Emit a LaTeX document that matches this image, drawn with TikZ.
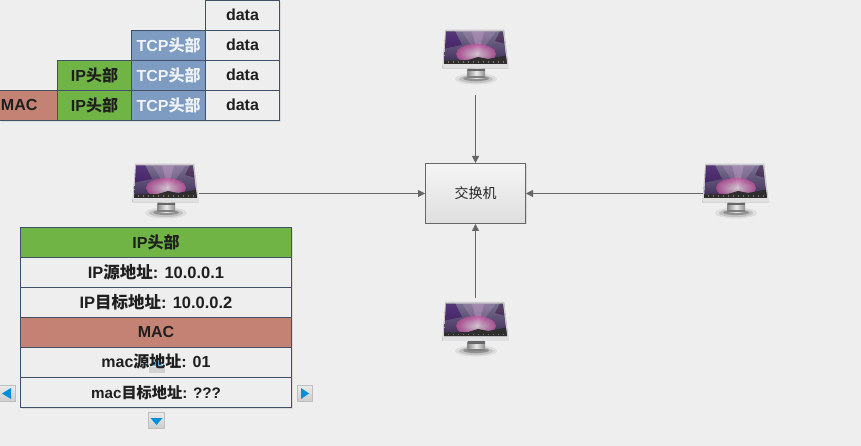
\documentclass[tikz,border=0pt]{standalone}
\usepackage{fontspec}
\setmainfont{Liberation Sans}
\newfontfamily\cjk{Noto Sans CJK SC}
\usetikzlibrary{shadows,arrows.meta}
\definecolor{bgc}{HTML}{EEEEEE}
\definecolor{edgec}{HTML}{3F5068}
\definecolor{greenc}{HTML}{70B446}
\definecolor{bluec}{HTML}{7E9BC2}
\definecolor{redc}{HTML}{C48274}
\definecolor{linkc}{HTML}{666666}
\definecolor{scrtop}{HTML}{7A7090}
\definecolor{scrmid}{HTML}{C9509E}
\definecolor{scrlow}{HTML}{3B2A55}
\newcommand{\zh}[1]{{\cjk\bfseries #1}}
\newcommand{\tsize}[1]{\fontsize{#1}{18}\selectfont\bfseries}
\tikzset{
  x=1pt,y=-1pt,
  cell/.style={draw=edgec,line width=1pt,minimum height=30pt,inner sep=0pt,anchor=north west,
    font=\tsize{16},text=black!88,text depth=2pt},
  datacell/.style={cell,minimum width=74pt,fill=bgc},
  tcpcell/.style={cell,minimum width=74pt,fill=bluec,text=white!88!bluec},
  ipcell/.style={cell,minimum width=74pt,fill=greenc},
  maccell/.style={cell,fill=redc,align=left,text width=58pt},
  wide/.style={cell,minimum width=271pt,fill=bgc},
  widegreen/.style={wide,fill=greenc},
  widered/.style={wide,fill=redc},
  switchbox/.style={draw=linkc,line width=1pt,top color=white!96!black,bottom color=black!13,
    minimum width=100pt,minimum height=60pt,inner sep=0pt,anchor=north west,
    font=\fontsize{14}{16}\selectfont,text=black!85,
    drop shadow={shadow xshift=1pt,shadow yshift=-1pt,fill=black!25,opacity=.5}},
  hostbox/.style={minimum width=68pt,minimum height=55pt,inner sep=0pt,anchor=north west},
  link/.style={draw=linkc,line width=.8pt,-{Triangle[length=7pt,width=7pt]}},
  pics/monitor/.style={code={
    % shadow
    \fill[black,opacity=.07] (34,50) ellipse [x radius=21,y radius=5.5];
    \fill[black,opacity=.12] (34,50) ellipse [x radius=17,y radius=4];
    \fill[black,opacity=.25] (34,49.5) ellipse [x radius=13,y radius=2.6];
    % stand
    \shade[left color=black!45,right color=black!45,middle color=black!8] (25.5,40) rectangle (43,49.5);
    \fill[black!60] (25.5,40) rectangle (43,42.5);
    \fill[black!50] (26,47.5) rectangle (42.5,49.5);
    % bezel
    \shade[top color=black!18,bottom color=black!8,draw=black!30,line width=.4pt]
      (3.5,1) -- (62,1) -- (66.5,39.5) -- (.5,39.5) -- cycle;
    \fill[white!88!black] (.5,35.5) -- (66.5,35.5) -- (66.5,39.5) -- (.5,39.5) -- cycle;
    % screen
    \begin{scope}
      \clip (4,2.5) -- (61,2.5) -- (65,35) -- (2,35) -- cycle;
      \shade[top color=scrtop,middle color=scrmid,bottom color=scrlow] (0,2) rectangle (67,36);
      \fill[black!70!blue!60!violet,opacity=.5] (0,2) -- (13,2) -- (20,16) -- (0,20) -- cycle;
      \fill[white!70!violet,opacity=.22] (36,27) -- (20,2) -- (54,2) -- cycle;
      \fill[white!70!violet,opacity=.3] (36,27) -- (30,2) -- (42,2) -- cycle;
      \shade[inner color=white!85!pink,outer color=scrmid,shading=radial,opacity=.7] (34,25) ellipse [x radius=20,y radius=10];
      \fill[black!70!violet,opacity=.4] (67,2) -- (58,2) -- (53,12) -- (67,16) -- cycle;
      \fill[black!82] (0,36) -- (0,31.5) -- (26,31) -- (36,28) -- (46,30) -- (67,26) -- (67,36) -- cycle;
      \foreach \px in {6,11,...,62} {\fill[white!70!orange,opacity=.4] (\px,32.5) rectangle ++(1.4,1.2);}
    \end{scope}
  }},
  navbtn/.style={draw=black!25,line width=.6pt,top color=white!92!black,bottom color=black!20},
  navtip/.style={fill=blue!35!cyan!85!black,draw=none}
}
\begin{document}
\begin{tikzpicture}
\useasboundingbox[fill=bgc] (0,0) rectangle (861,446);
% upper table shadow
\fill[black!14] (1,121) rectangle (281,122.5);
\fill[black!14] (280,2) rectangle (281,122);
% upper table
\node[datacell] (d1) at (205,0) {data};
\node[tcpcell]  (t2) at (131,30) {TCP\zh{头部}};
\node[datacell] (d2) at (205,30) {data};
\node[ipcell]   (i3) at (57,60) {IP\zh{头部}};
\node[tcpcell]  (t3) at (131,60) {TCP\zh{头部}};
\node[datacell] (d3) at (205,60) {data};
\node[maccell] (m4) at (-1,90) {\hspace*{1.5pt}MAC};
\node[ipcell]   (i4) at (57,90) {IP\zh{头部}};
\node[tcpcell]  (t4) at (131,90) {TCP\zh{头部}};
\node[datacell] (d4) at (205,90) {data};
% monitors
\pic at (132,163) {monitor};
\pic at (442,29) {monitor};
\pic at (702,163) {monitor};
\pic at (442,301) {monitor};
\node[hostbox] (hl) at (132,163) {};
\node[hostbox] (ht) at (442,29) {};
\node[hostbox] (hr) at (702,163) {};
\node[hostbox] (hb) at (442,301) {};
% switch
\node[switchbox] (sw) at (425,163) {\cjk 交换机};
\coordinate (lf) at (199,193.5);
\coordinate (tf) at (475.5,95);
\coordinate (rf) at (703,193.5);
\coordinate (bf) at (475.5,298);
\draw[link] (lf) -- (lf-|sw.west);
\draw[link] (tf) -- (tf|-sw.north);
\draw[link] (rf) -- (rf-|sw.east);
\draw[link] (bf) -- (bf|-sw.south);
% nav buttons
\draw[navbtn] (148.5,412.5) rectangle (164.5,428.5);
\fill[navtip] (150.5,418) -- (162.5,418) -- (156.5,425) -- cycle;
\draw[navbtn] (-2,385.5) rectangle (15.5,401.5);
\fill[navtip] (2,393.5) -- (11,388) -- (11,399) -- cycle;
\draw[navbtn] (297,385.5) rectangle (312.5,401.5);
\fill[navtip] (309,393.5) -- (301,388) -- (301,399) -- cycle;
% lower table
\fill[black!14] (22,408) rectangle (293,409);
\fill[black!14] (292,229) rectangle (293,408.5);
\node[widegreen] (a1) at (20,227) {IP\zh{头部}};
\node[wide,font=\tsize{16.5}] (a2) at (20,257) {IP\zh{源地址}: 10.0.0.1};
\node[wide,font=\tsize{16.5}] (a3) at (20,287) {IP\zh{目标地址}: 10.0.0.2};
\node[widered] (a4) at (20,317) {MAC};
\node[wide] (a5) at (20,347) {};
\node[wide,font=\tsize{15.2}] (a6) at (20,377) {mac\zh{目标地址}: ???};
\fill[black!22,opacity=.7] (148.5,367) rectangle (164.5,372.5);
\fill[navtip,opacity=.55] (150.5,366) -- (156.5,358) -- (162.5,366) -- cycle;
\node[anchor=center,font=\tsize{16},text=black!88,inner sep=0pt,yshift=1pt] (a5t) at (a5.center) {mac\zh{源地址}: 01};
\end{tikzpicture}
\end{document}
